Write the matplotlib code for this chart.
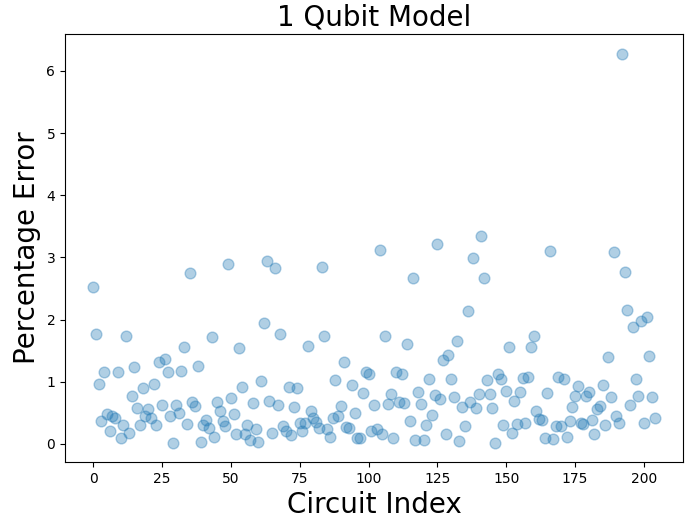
import matplotlib
matplotlib.use("Agg")
import matplotlib.pyplot as plt
import numpy as np

title = "1 Qubit Model"
xlabel = "Circuit Index"
ylabel = "Percentage Error"

errors = [
    2.52, 1.76, 0.96, 0.37, 1.16, 0.48, 0.21, 0.44, 0.42, 1.16,
    0.09, 0.30, 1.74, 0.18, 0.77, 1.23, 0.57, 0.31, 0.89, 0.45,
    0.56, 0.41, 0.97, 0.31, 1.31, 0.63, 1.36, 1.16, 0.45, 0.02,
    0.62, 0.50, 1.17, 1.55, 0.32, 2.75, 0.68, 0.61, 1.26, 0.03,
    0.30, 0.39, 0.25, 1.72, 0.11, 0.68, 0.52, 0.37, 0.29, 2.90,
    0.73, 0.48, 0.16, 1.54, 0.91, 0.16, 0.30, 0.06, 0.65, 0.24,
    0.03, 1.01, 1.95, 2.94, 0.69, 0.18, 2.83, 0.62, 1.76, 0.29,
    0.20, 0.91, 0.14, 0.59, 0.90, 0.33, 0.21, 0.34, 1.58, 0.52,
    0.42, 0.35, 0.25, 2.84, 1.73, 0.24, 0.11, 0.41, 1.03, 0.45,
    0.61, 1.32, 0.27, 0.25, 0.95, 0.49, 0.10, 0.09, 0.81, 1.15,
    1.12, 0.21, 0.62, 0.24, 3.12, 0.16, 1.73, 0.64, 0.80, 0.09,
    1.16, 0.67, 1.13, 0.65, 1.60, 0.36, 2.67, 0.06, 0.84, 0.64,
    0.06, 0.31, 1.05, 0.47, 0.79, 3.22, 0.72, 1.35, 0.16, 1.43,
    1.05, 0.75, 1.65, 0.04, 0.59, 0.29, 2.13, 0.68, 2.99, 0.57,
    0.80, 3.34, 2.67, 1.02, 0.80, 0.57, 0.02, 1.12, 1.05, 0.31,
    0.85, 1.56, 0.17, 0.69, 0.32, 0.84, 1.06, 0.34, 1.07, 1.55,
    1.73, 0.53, 0.40, 0.39, 0.09, 0.81, 3.10, 0.08, 0.28, 1.08,
    0.28, 1.04, 0.11, 0.37, 0.59, 0.77, 0.93, 0.34, 0.32,
    0.77, 0.83, 0.38, 0.16, 0.56, 0.61, 0.94, 0.30, 1.40,
    0.75, 3.09, 0.44, 0.33, 6.28, 2.76, 2.16, 0.62, 1.88, 1.04,
    0.77, 1.98, 0.33, 2.04, 1.42, 0.76, 0.42,
]
circuit_index = np.arange(len(errors))

fig = plt.figure(figsize=(6.85, 5.25), dpi=100)
ax = fig.add_axes([0.095, 0.12, 0.902, 0.815])
ax.scatter(circuit_index, errors, s=60, color="tab:blue", alpha=0.35)
ax.set_title(title, fontsize=20)
ax.set_xlabel(xlabel, fontsize=20)
ax.set_ylabel(ylabel, fontsize=20)
ax.set_xticks([0, 25, 50, 75, 100, 125, 150, 175, 200])
fig.savefig("out.png", dpi=100)
